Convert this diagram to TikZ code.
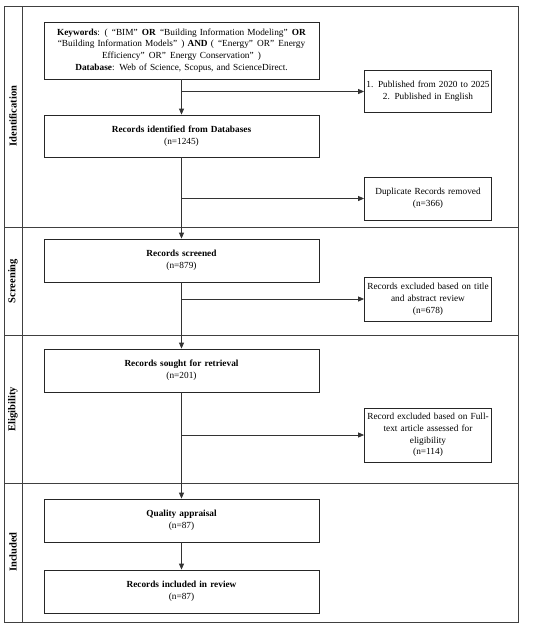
\documentclass[tikz,border=0pt]{standalone}
\usepackage{fontspec}
\setmainfont{Liberation Serif}
\usetikzlibrary{arrows.meta}
\newcommand\oq{\hspace{0.45em}“}
\newcommand\cq{”\hspace{0.45em}}
\begin{document}
\begin{tikzpicture}[x=1pt,y=-1pt,
  font=\fontsize{9.3}{11.8}\selectfont,
  box/.style={draw=black!85, line width=0.8pt, align=center, inner sep=1pt},
  mainbox/.style={box, minimum width=275pt, text width=272pt},
  sidebox/.style={box, minimum width=126pt, text width=125pt},
  arr/.style={draw=black!80, line width=0.8pt, -{Triangle[length=6pt,width=5pt]}},
  frame/.style={draw=black!75, line width=0.9pt},
  lane/.style={rotate=90, font=\fontsize{10.5}{12}\selectfont\bfseries}]
\useasboundingbox (0,0) rectangle (550,627);
% frame and lanes
\draw[frame] (4,6) rectangle (518,622);
\draw[frame] (22.5,6) -- (22.5,622);
\draw[frame] (4,227) -- (518,227);
\draw[frame] (4,335) -- (518,335);
\draw[frame] (4,483) -- (518,483);
\node[lane] (l1) at (13,116) {Identification};
\node[lane] (l2) at (13,281) {Screening};
\node[lane] (l3) at (13,409) {Eligibility};
\node[lane] (l4) at (13,552) {Included};
% boxes
\node[mainbox, minimum height=57pt] (kw) at (181.5,50.5) {\textbf{Keywords}: (\oq BIM\cq\textbf{OR}\oq Building Information Modeling\cq\textbf{OR}\\ “Building Information Models\cq) \textbf{AND} (\oq Energy\cq OR\cq Energy\\ Efficiency\cq OR\cq Energy Conservation\cq)\\ \textbf{Database}: Web of Science, Scopus, and ScienceDirect.};
\node[sidebox, minimum height=42pt] (crit) at (428,91.5) {1. Published from 2020 to 2025\\ 2. Published in English};
\node[mainbox, minimum height=42pt] (rid) at (181.5,136) {\textbf{Records identified from Databases}\\ (n=1245)};
\node[sidebox, minimum height=43pt] (dup) at (428,198.5) {Duplicate Records removed\\ (n=366)};
\node[mainbox, minimum height=43pt] (scr) at (181.5,260.5) {\textbf{Records screened}\\ (n=879)};
\node[sidebox, minimum height=44pt] (exc) at (428,299) {Records excluded based on title\\ and abstract review\\ (n=678)};
\node[mainbox, minimum height=43pt] (sou) at (181.5,370.5) {\textbf{Records sought for retrieval}\\ (n=201)};
\node[sidebox, minimum height=54pt] (ft) at (428,435) {Record excluded based on Full-\\ text article assessed for\\ eligibility\\ (n=114)};
\node[mainbox, minimum height=43pt] (qa) at (181.5,520.5) {\textbf{Quality appraisal}\\ (n=87)};
\node[mainbox, minimum height=43pt] (inc) at (181.5,591.5) {\textbf{Records included in review}\\ (n=87)};
% connectors
\draw[arr] (kw.south) -- (rid.north);
\draw[arr] (kw.south |- crit.west) -- (crit.west);
\draw[arr] (rid.south) -- (scr.north);
\draw[arr] (rid.south |- dup.west) -- (dup.west);
\draw[arr] (scr.south) -- (sou.north);
\draw[arr] (scr.south |- exc.west) -- (exc.west);
\draw[arr] (sou.south) -- (qa.north);
\draw[arr] (sou.south |- ft.west) -- (ft.west);
\draw[arr] (qa.south) -- (inc.north);
\end{tikzpicture}
\end{document}
